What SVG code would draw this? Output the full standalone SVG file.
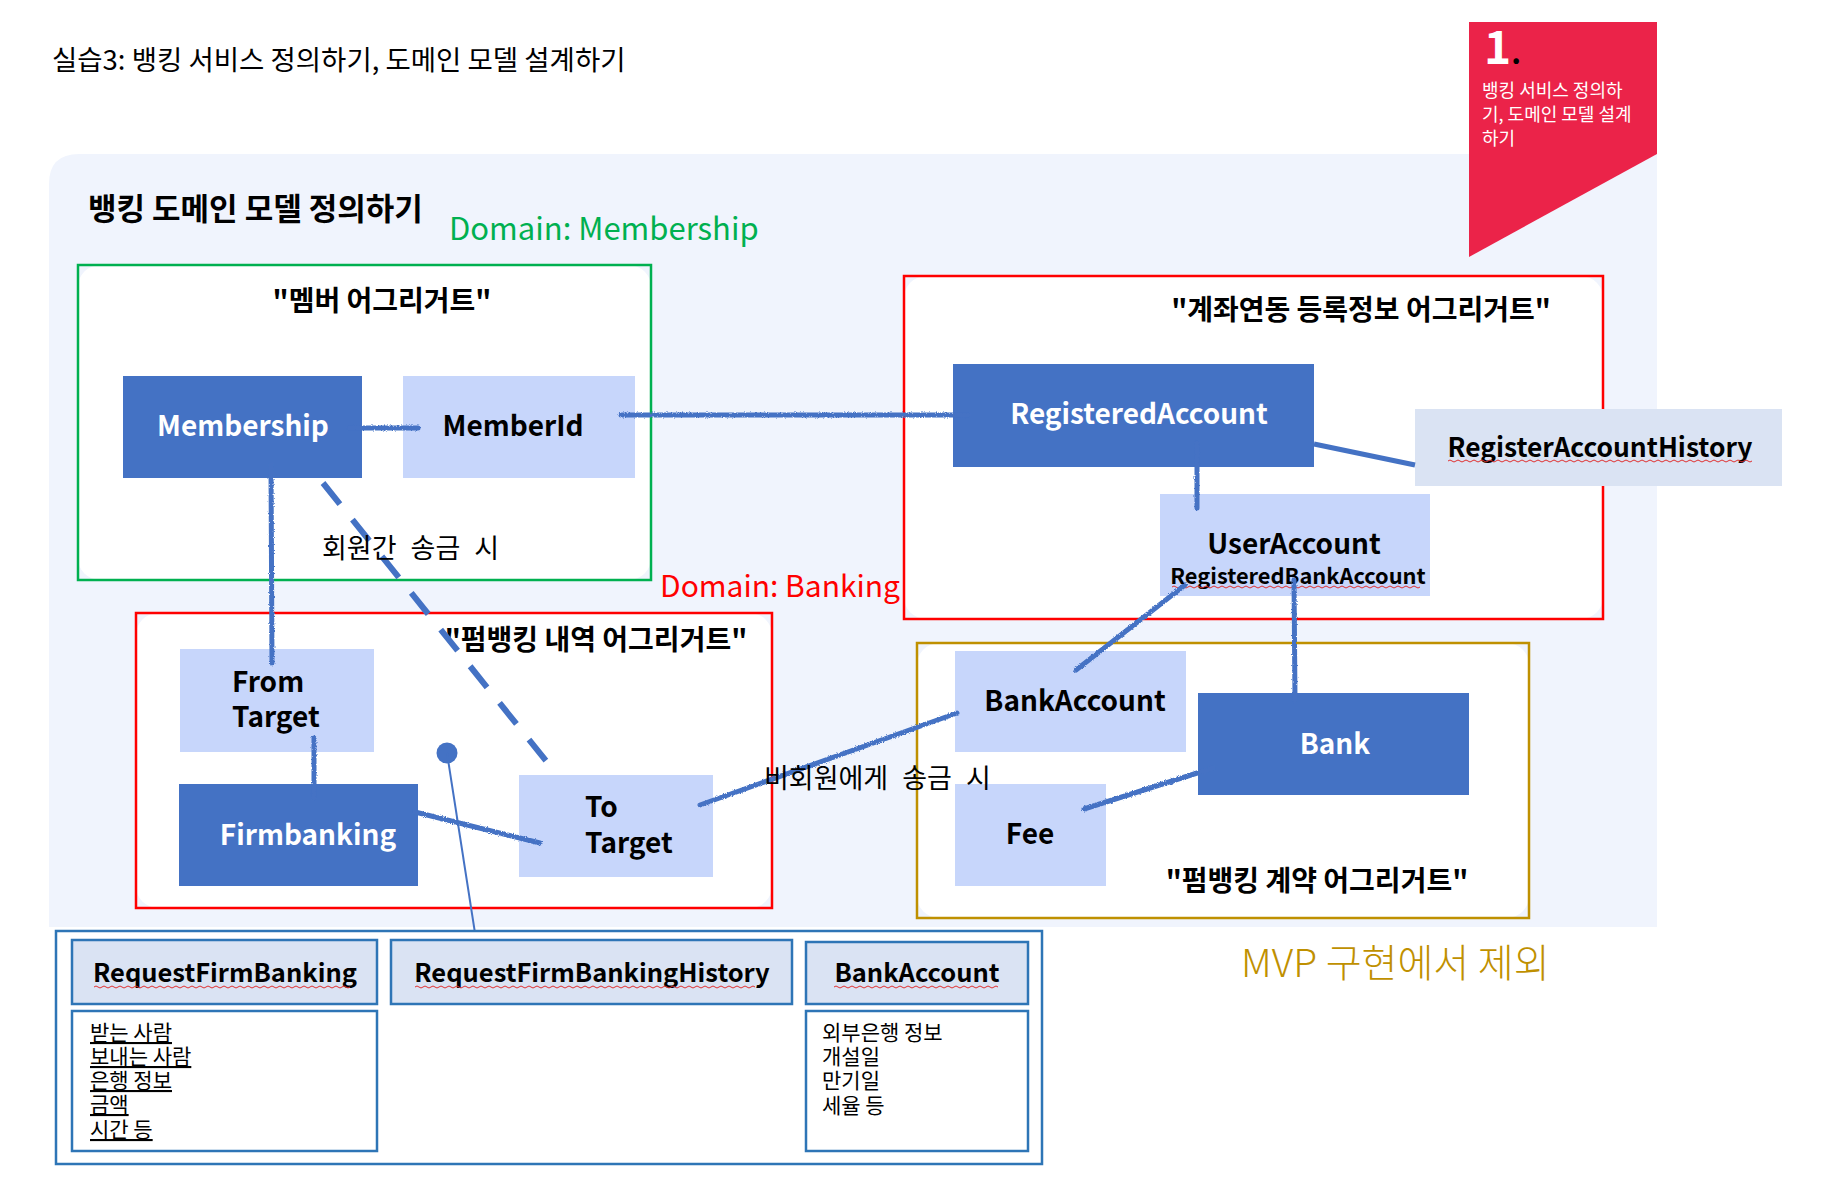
<svg xmlns="http://www.w3.org/2000/svg" width="1834" height="1195" viewBox="0 0 1834 1195">
<style>
  text { font-family: "Noto Sans CJK KR", "Noto Sans", sans-serif; }
  .kr { font-family: "Noto Sans CJK KR", sans-serif; }
  .agg { font-size: 28px; font-weight: 700; fill: #000; text-anchor: middle; }
  .lbl { font-size: 28px; font-weight: 700; }
  .dark { fill: #4472C4; }
  .light { fill: #C7D6FB; }
  .dtxt { fill: #fff; text-anchor: middle; }
  .ltxt { fill: #000; }
  .conn { stroke: #4472C4; stroke-width: 5; stroke-linecap: round; fill: none; }
  .hdr { fill: #DAE3F3; stroke: #2E75B6; stroke-width: 2.5; }
  .body { fill: #fff; stroke: #2E75B6; stroke-width: 2.5; }
  .htxt { font-size: 25.5px; font-weight: 700; fill: #000; text-anchor: middle; }
  .btxt { font-size: 21px; fill: #000; }
  .squig { stroke: #E03030; stroke-width: 1; fill: none; }
</style>
<defs>
  <filter id="rough" x="-10%" y="-10%" width="120%" height="120%">
    <feTurbulence type="fractalNoise" baseFrequency="0.9" numOctaves="2" result="n"/>
    <feDisplacementMap in="SourceGraphic" in2="n" scale="3" xChannelSelector="R" yChannelSelector="G"/>
  </filter>
</defs>
<rect width="1834" height="1195" fill="#fff"/>

<text x="52" y="70" font-size="27.5" class="kr">실습3: 뱅킹 서비스 정의하기, 도메인 모델 설계하기</text>

<!-- panel -->
<path d="M49,184 Q49,154 79,154 H1657 V927 H49 Z" fill="#F0F4FD"/>

<!-- banner -->
<g id="banner">
  <polygon points="1469,22 1657,22 1657,154 1469,257" fill="#EB2349"/>
  <text x="1484" y="64" font-size="46" font-weight="700" fill="#fff" font-family="Liberation Sans, sans-serif">1<tspan fill="#000" font-size="30">.</tspan></text>
  <text x="1482" y="97" font-size="18" fill="#fff">뱅킹 서비스 정의하</text>
  <text x="1482" y="121" font-size="18" fill="#fff">기, 도메인 모델 설계</text>
  <text x="1482" y="145" font-size="18" fill="#fff">하기</text>
</g>

<text x="88" y="220" font-size="31" font-weight="700">뱅킹 도메인 모델 정의하기</text>
<text x="449" y="240" font-size="31" fill="#00B050" font-family="Noto Sans, sans-serif">Domain: Membership</text>
<text x="660" y="597" font-size="30" fill="#FF0000" font-family="Noto Sans, sans-serif">Domain: Banking</text>
<text x="1241" y="977" font-size="39" font-weight="300" fill="#BF9000">MVP 구현에서 제외</text>

<!-- aggregates -->
<g id="agg-member">
  <rect x="78" y="265" width="573" height="315" rx="22" fill="#fff"/>
  <rect x="78" y="265" width="573" height="315" fill="none" stroke="#00B050" stroke-width="2.5"/>
  <text x="382" y="311" class="agg">"멤버 어그리거트"</text>
</g>
<g id="agg-registered">
  <rect x="904" y="276" width="699" height="343" rx="22" fill="#fff"/>
  <rect x="904" y="276" width="699" height="343" fill="none" stroke="#FF0000" stroke-width="2.5"/>
  <text x="1361" y="320" class="agg">"계좌연동 등록정보 어그리거트"</text>
</g>
<g id="agg-firmbanking">
  <rect x="136" y="613" width="636" height="295" rx="22" fill="#fff"/>
  <rect x="136" y="613" width="636" height="295" fill="none" stroke="#FF0000" stroke-width="2.5"/>
  <text x="596" y="650" class="agg">"펌뱅킹 내역 어그리거트"</text>
</g>
<g id="agg-contract">
  <rect x="917" y="643" width="612" height="275" rx="22" fill="#fff"/>
  <rect x="917" y="643" width="612" height="275" fill="none" stroke="#BF9000" stroke-width="2.5"/>
  <text x="1317" y="891" class="agg">"펌뱅킹 계약 어그리거트"</text>
</g>

<!-- nodes -->
<g id="membership">
  <rect x="123" y="376" width="239" height="102" class="dark"/>
  <text x="243" y="436" class="lbl dtxt">Membership</text>
</g>
<g id="memberid">
  <rect x="403" y="376" width="232" height="102" class="light"/>
  <text x="513" y="436" class="lbl ltxt" text-anchor="middle">MemberId</text>
</g>
<g id="fromtarget">
  <rect x="180" y="649" width="194" height="103" class="light"/>
  <text x="232" y="692" class="lbl ltxt">From</text>
  <text x="232" y="727" class="lbl ltxt">Target</text>
</g>
<g id="firmbanking">
  <rect x="179" y="784" width="239" height="102" class="dark"/>
  <text x="308" y="845" class="lbl dtxt">Firmbanking</text>
</g>
<g id="totarget">
  <rect x="519" y="775" width="194" height="102" class="light"/>
  <text x="585" y="817" class="lbl ltxt">To</text>
  <text x="585" y="853" class="lbl ltxt">Target</text>
</g>
<g id="registeredaccount">
  <rect x="953" y="364" width="361" height="103" class="dark"/>
  <text x="1139" y="424" class="lbl dtxt">RegisteredAccount</text>
</g>
<g id="useraccount">
  <rect x="1160" y="494" width="270" height="102" class="light"/>
  <text x="1294" y="554" class="lbl ltxt" text-anchor="middle">UserAccount</text>
  <text x="1298" y="584" font-size="21.8" font-weight="700" text-anchor="middle">RegisteredBankAccount</text>
  <path class="squig" d="M1172,587 q2,-2 4,0 t4,0 t4,0 t4,0 t4,0 t4,0 t4,0 t4,0 t4,0 t4,0 t4,0 t4,0 t4,0 t4,0 t4,0 t4,0 t4,0 t4,0 t4,0 t4,0 t4,0 t4,0 t4,0 t4,0 t4,0 t4,0 t4,0 t4,0 t4,0 t4,0 t4,0 t4,0 t4,0 t4,0 t4,0 t4,0 t4,0 t4,0 t4,0 t4,0 t4,0 t4,0 t4,0 t4,0 t4,0 t4,0 t4,0 t4,0 t4,0 t4,0 t4,0 t4,0 t4,0 t4,0 t4,0 t4,0 t4,0 t4,0 t4,0 t4,0 t4,0 t4,0"/>
</g>
<g id="history">
  <rect x="1415" y="409" width="367" height="77" fill="#DAE3F3"/>
  <text x="1600" y="457" font-size="26.4" font-weight="700" text-anchor="middle">RegisterAccountHistory</text>
  <path class="squig" d="M1448,461 q2,-2 4,0 t4,0 t4,0 t4,0 t4,0 t4,0 t4,0 t4,0 t4,0 t4,0 t4,0 t4,0 t4,0 t4,0 t4,0 t4,0 t4,0 t4,0 t4,0 t4,0 t4,0 t4,0 t4,0 t4,0 t4,0 t4,0 t4,0 t4,0 t4,0 t4,0 t4,0 t4,0 t4,0 t4,0 t4,0 t4,0 t4,0 t4,0 t4,0 t4,0 t4,0 t4,0 t4,0 t4,0 t4,0 t4,0 t4,0 t4,0 t4,0 t4,0 t4,0 t4,0 t4,0 t4,0 t4,0 t4,0 t4,0 t4,0 t4,0 t4,0 t4,0 t4,0 t4,0 t4,0 t4,0 t4,0 t4,0 t4,0 t4,0 t4,0 t4,0 t4,0 t4,0 t4,0 t4,0 t4,0"/>
</g>
<g id="bankaccount">
  <rect x="955" y="651" width="231" height="101" class="light"/>
  <text x="1075" y="711" class="lbl ltxt" text-anchor="middle">BankAccount</text>
</g>
<g id="bank">
  <rect x="1198" y="693" width="271" height="102" class="dark"/>
  <text x="1335" y="754" class="lbl dtxt">Bank</text>
</g>
<g id="fee">
  <rect x="955" y="784" width="151" height="102" class="light"/>
  <text x="1030" y="844" class="lbl ltxt" text-anchor="middle">Fee</text>
</g>

<!-- connectors -->
<g id="connectors">
  <g filter="url(#rough)">
    <line class="conn" x1="349" y1="428" x2="418" y2="428"/>
    <line class="conn" x1="621" y1="415" x2="968" y2="415"/>
    <line class="conn" x1="1197" y1="443" x2="1197" y2="508"/>
    <line class="conn" x1="1185" y1="585" x2="1076" y2="670"/>
    <line class="conn" x1="1294" y1="580" x2="1295" y2="700"/>
    <line class="conn" x1="1213" y1="768" x2="1084" y2="809"/>
    <line class="conn" x1="700" y1="805" x2="957" y2="713"/>
    <line class="conn" x1="271" y1="465" x2="272" y2="663"/>
    <line class="conn" x1="314" y1="738" x2="314" y2="798"/>
    <line class="conn" x1="415" y1="812" x2="540" y2="843"/>
  </g>
  <line x1="1314" y1="444" x2="1415" y2="465" stroke="#4472C4" stroke-width="5"/>
  <line x1="323" y1="483" x2="547" y2="762" stroke="#4472C4" stroke-width="6" stroke-dasharray="27 20"/>
  <circle cx="447" cy="753" r="10.5" fill="#4472C4"/>
  <line x1="447" y1="753" x2="475" y2="933" stroke="#4472C4" stroke-width="2"/>
</g>

<text x="322" y="558" font-size="27" word-spacing="8">회원간 송금 시</text>
<text x="764" y="788" font-size="27" word-spacing="8">비회원에게 송금 시</text>

<!-- bottom tables -->
<g id="tables">
  <rect x="56" y="931" width="986" height="233" fill="#fff" stroke="#2E75B6" stroke-width="2.5"/>
  <g id="t-request">
    <rect x="72" y="940" width="305" height="64" class="hdr"/>
    <text x="225" y="982" class="htxt">RequestFirmBanking</text>
    <path class="squig" d="M94,987 q2,-2 4,0 t4,0 t4,0 t4,0 t4,0 t4,0 t4,0 t4,0 t4,0 t4,0 t4,0 t4,0 t4,0 t4,0 t4,0 t4,0 t4,0 t4,0 t4,0 t4,0 t4,0 t4,0 t4,0 t4,0 t4,0 t4,0 t4,0 t4,0 t4,0 t4,0 t4,0 t4,0 t4,0 t4,0 t4,0 t4,0 t4,0 t4,0 t4,0 t4,0 t4,0 t4,0 t4,0 t4,0 t4,0 t4,0 t4,0 t4,0 t4,0 t4,0 t4,0 t4,0 t4,0 t4,0 t4,0 t4,0 t4,0 t4,0 t4,0 t4,0 t4,0 t4,0 t4,0 t4,0"/>
    <rect x="72" y="1011" width="305" height="140" class="body"/>
    <g class="btxt" text-decoration="underline">
      <text x="90" y="1040" class="btxt">받는 사람</text>
      <text x="90" y="1064" class="btxt">보내는 사람</text>
      <text x="90" y="1088" class="btxt">은행 정보</text>
      <text x="90" y="1112" class="btxt">금액</text>
      <text x="90" y="1137" class="btxt">시간 등</text>
    </g>
  </g>
  <g id="t-history">
    <rect x="391" y="940" width="401" height="64" class="hdr"/>
    <text x="592" y="982" class="htxt">RequestFirmBankingHistory</text>
    <path class="squig" d="M415,987 q2,-2 4,0 t4,0 t4,0 t4,0 t4,0 t4,0 t4,0 t4,0 t4,0 t4,0 t4,0 t4,0 t4,0 t4,0 t4,0 t4,0 t4,0 t4,0 t4,0 t4,0 t4,0 t4,0 t4,0 t4,0 t4,0 t4,0 t4,0 t4,0 t4,0 t4,0 t4,0 t4,0 t4,0 t4,0 t4,0 t4,0 t4,0 t4,0 t4,0 t4,0 t4,0 t4,0 t4,0 t4,0 t4,0 t4,0 t4,0 t4,0 t4,0 t4,0 t4,0 t4,0 t4,0 t4,0 t4,0 t4,0 t4,0 t4,0 t4,0 t4,0 t4,0 t4,0 t4,0 t4,0 t4,0 t4,0 t4,0 t4,0 t4,0 t4,0 t4,0 t4,0 t4,0 t4,0 t4,0 t4,0 t4,0 t4,0 t4,0 t4,0 t4,0 t4,0 t4,0 t4,0 t4,0"/>
  </g>
  <g id="t-bankaccount">
    <rect x="806" y="942" width="222" height="62" class="hdr"/>
    <text x="917" y="982" class="htxt">BankAccount</text>
    <path class="squig" d="M834,987 q2,-2 4,0 t4,0 t4,0 t4,0 t4,0 t4,0 t4,0 t4,0 t4,0 t4,0 t4,0 t4,0 t4,0 t4,0 t4,0 t4,0 t4,0 t4,0 t4,0 t4,0 t4,0 t4,0 t4,0 t4,0 t4,0 t4,0 t4,0 t4,0 t4,0 t4,0 t4,0 t4,0 t4,0 t4,0 t4,0 t4,0 t4,0 t4,0 t4,0 t4,0 t4,0"/>
    <rect x="806" y="1011" width="222" height="140" class="body"/>
    <text x="822" y="1040" class="btxt">외부은행 정보</text>
    <text x="822" y="1064" class="btxt">개설일</text>
    <text x="822" y="1088" class="btxt">만기일</text>
    <text x="822" y="1113" class="btxt">세율 등</text>
  </g>
</g>
</svg>
